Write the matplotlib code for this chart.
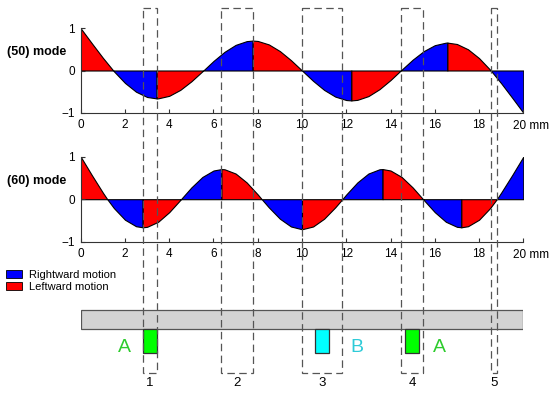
import numpy as np
import matplotlib.pyplot as plt
from matplotlib.patches import Rectangle, Patch

plt.rcParams['font.family'] = ['Liberation Sans', 'DejaVu Sans']

# sample positions along the strip (mm), every 0.5 mm
x_grid = np.linspace(0, 20, 41)

# (50) mode displacement
y50 = [1.000, 0.647, 0.302, -0.019, -0.294, -0.503, -0.628, -0.660, -0.600, -0.459,
       -0.256, -0.018, 0.226, 0.443, 0.607, 0.696, 0.700, 0.618, 0.460, 0.245,
       0.000, -0.245, -0.460, -0.618, -0.700, -0.696, -0.607, -0.443, -0.226, 0.018,
       0.256, 0.459, 0.600, 0.660, 0.628, 0.503, 0.294, 0.019, -0.302, -0.647, -1.000]
nodes50 = [1.47, 5.54, 10.0, 14.46, 18.53]
peaks50_x = [3.43, 7.77, 12.23, 16.57]
peaks50_y = [-0.661, 0.709, -0.709, 0.661]

# (60) mode
y60 = [1.000, 0.569, 0.155, -0.209, -0.483, -0.636, -0.650, -0.531, -0.305, -0.018,
       0.277, 0.524, 0.675, 0.704, 0.604, 0.394, 0.111, -0.192, -0.459, -0.642,
       -0.707, -0.642, -0.459, -0.192, 0.111, 0.394, 0.604, 0.704, 0.675, 0.524,
       0.277, -0.018, -0.305, -0.531, -0.650, -0.636, -0.483, -0.209, 0.155, 0.569, 1.000]
nodes60 = [1.20, 4.53, 8.18, 11.82, 15.47, 18.80]
peaks60_x = [2.80, 6.36, 10.0, 13.64, 17.20]
peaks60_y = [-0.661, 0.709, -0.707, 0.709, -0.661]

# dashed regions 1..5 (mm)
box_lo = [2.80, 6.36, 10.00, 14.46, 18.53]
box_hi = [3.43, 7.77, 11.82, 15.47, 18.80]
box_names = ['1', '2', '3', '4', '5']

# blocks under the strip
block_lo = [2.80, 10.60, 14.67]
block_hi = [3.43, 11.24, 15.30]
block_kind = ['A', 'B', 'A']
letter_x = [1.99, 12.50, 16.20]

BLUE, RED = '#0000ff', '#ff0000'
face = {'A': '#00ff00', 'B': '#00ffff'}
ink = {'A': '#2ecc2e', 'B': '#2ecbd8'}


def draw_mode(ax, y, nodes, px, py):
    xs = np.concatenate([x_grid, nodes, px])
    ys = np.concatenate([y, np.zeros(len(nodes)), py])
    order = np.argsort(xs, kind='stable')
    xs, ys = xs[order], ys[order]
    edges = np.sort(np.concatenate([[0, 20], nodes, px]))
    for a, b in zip(edges[:-1], edges[1:]):
        m = (xs >= a - 1e-9) & (xs <= b + 1e-9)
        sx, sy = xs[m], ys[m]
        # blue where |displacement| grows along x
        col = BLUE if abs(sy[-1]) > abs(sy[0]) else RED
        ax.fill_between(sx, sy, 0, facecolor=col, edgecolor='black', lw=0.8)

    ax.set_xlim(0, 20)
    ax.set_ylim(-1, 1)
    for s in ['top', 'right']:
        ax.spines[s].set_visible(False)
    for s in ['left', 'bottom']:
        ax.spines[s].set_color('#333333')
        ax.spines[s].set_linewidth(0.8)
    ax.set_xticks(np.arange(0, 21, 2))
    ax.set_xticklabels([str(v) for v in range(0, 20, 2)] + [''])
    ax.set_yticks([-1, 0, 1])
    ax.set_yticklabels(['\u22121', '0', '1'])
    ax.tick_params(axis='x', direction='in', length=3, width=0.8, pad=4.5,
                   labelsize=8.5, color='#333333')
    ax.tick_params(axis='y', direction='in', length=3, width=0.8, pad=4,
                   labelsize=8.5, color='#333333')
    ax.annotate('20 mm', xy=(20, -1), xytext=(-7.6, -12), textcoords='offset points',
                ha='left', va='baseline', fontsize=8.5, annotation_clip=False)
    ax.patch.set_visible(False)


fig = plt.figure(figsize=(5.5, 3.95), dpi=100)
L, W = 80.7 / 550, 442.6 / 550


def px_box(top, bottom):
    return [L, 1 - bottom / 395, W, (bottom - top) / 395]


ax1 = fig.add_axes(px_box(28.3, 112.7))
ax2 = fig.add_axes(px_box(156.7, 241.7))
draw_mode(ax1, y50, nodes50, peaks50_x, peaks50_y)
draw_mode(ax2, y60, nodes60, peaks60_x, peaks60_y)

fig.text(7 / 550, 1 - 52 / 395, '(50) mode', fontsize=9, fontweight='bold',
         ha='left', va='center')
fig.text(7 / 550, 1 - 180.7 / 395, '(60) mode', fontsize=9, fontweight='bold',
         ha='left', va='center')

handles = [Patch(facecolor=BLUE, edgecolor='black', lw=0.6, label='Rightward motion'),
           Patch(facecolor=RED, edgecolor='black', lw=0.6, label='Leftward motion')]
fig.legend(handles=handles, loc='upper left', bbox_to_anchor=(6 / 550, 1 - 270 / 395),
           frameon=False, fontsize=8, borderpad=0, borderaxespad=0,
           handlelength=1.45, handleheight=0.7, handletextpad=0.6, labelspacing=0.15)

# overlay: x in mm, y in pixels from the top of the figure
ov = fig.add_axes([L, 0, W, 1], zorder=5)
ov.set_xlim(0, 20)
ov.set_ylim(395, 0)
ov.axis('off')

ov.add_patch(Rectangle((0, 310), 20, 19.3, facecolor='#d3d3d3', edgecolor='#555555', lw=0.9))
for lo, hi, k in zip(block_lo, block_hi, block_kind):
    ov.add_patch(Rectangle((lo, 329.3), hi - lo, 23.4, facecolor=face[k],
                           edgecolor='#333333', lw=0.9))
for lx, k in zip(letter_x, block_kind):
    ov.text(lx, 347, k, color=ink[k], fontsize=14, ha='center', va='center')

for lo, hi, name in zip(box_lo, box_hi, box_names):
    ov.add_patch(Rectangle((lo, 8.3), hi - lo, 364.4, fill=False, edgecolor='#555555',
                           lw=0.9, linestyle=(0, (6, 3.5))))
    ov.text((lo + hi) / 2, 383, name, fontsize=9.5, ha='center', va='center')

fig.savefig('out.png', dpi=100)
